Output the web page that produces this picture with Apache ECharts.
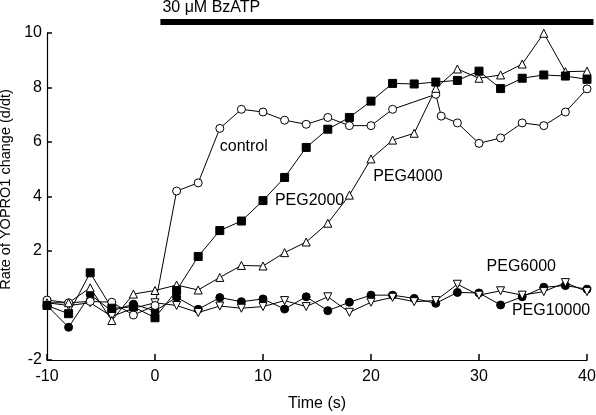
<!DOCTYPE html>
<html>
<head>
<meta charset="utf-8">
<script src="https://cdn.jsdelivr.net/npm/echarts@6/dist/echarts.min.js"></script>
<style>html,body{margin:0;padding:0;background:#fff}#c{width:596px;height:415px}</style>
</head>
<body>
<div id="c"></div>
<script>
// Time points (s)
const times = [-10,-8,-6,-4,-2,0,2,4,6,8,10,12,14,16,18,20,22,24,26,28,30,32,34,36,38,40];
// control has an extra sample near 26.5 s and none visible at 24 s
const controlTimes = [-10,-8,-6,-4,-2,0,2,4,6,8,10,12,14,16,18,20,22,26,26.5,28,30,32,34,36,38,40];
const controlVals  = [0.2,0.1,0.15,0.12,-0.35,0.0,4.2,4.5,6.5,7.2,7.1,6.8,6.65,6.9,6.6,6.6,7.2,7.75,6.95,6.7,5.95,6.15,6.7,6.6,7.1,7.95];
const peg2000 = [0.0,-0.3,1.2,-0.1,-0.05,-0.45,0.55,1.8,2.75,3.1,3.85,4.7,5.8,6.47,6.9,7.5,8.15,8.13,8.2,8.26,8.6,7.96,8.34,8.46,8.42,8.3];
const peg4000 = [0.1,0.1,0.65,-0.55,0.42,0.55,0.75,0.57,1.03,1.47,1.45,1.94,2.33,3.02,4.05,5.38,6.07,6.32,7.97,8.68,8.34,8.46,8.86,9.99,8.58,8.6];
const peg6000 = [0.1,0.0,0.1,-0.4,-0.1,0.1,0.0,-0.26,-0.02,-0.1,-0.04,0.18,-0.04,0.32,-0.25,0.12,0.3,0.14,0.18,0.78,0.38,0.54,0.38,0.51,0.84,0.51];
const peg10000 = [0.0,-0.8,0.4,-0.2,0.05,-0.2,0.3,-0.14,0.29,0.14,0.24,-0.13,0.32,-0.19,0.12,0.38,0.38,0.26,0.08,0.48,0.46,0.02,0.32,0.67,0.73,0.6];
const yTicks = [-2,2,4,6,8,10];
const xTicks = [-10,0,10,20,30,40];
// Stimulus bar (time span) and annotation labels [text, t, y]
const stimulus = {text: '30 \u03bcM BzATP', start: 0.5, end: 40.6};
const seriesLabels = [['control',6.0,5.82],['PEG2000',11.1,3.85],['PEG4000',20.2,4.72],['PEG6000',30.7,1.41],['PEG10000',33.05,-0.17]];

const FONT = 'Liberation Sans, Arial, sans-serif';
const zip = (xs, ys) => xs.map((x,i)=>[x, ys[i]]);

const chart = echarts.init(document.getElementById('c'));
function mk(name, data, symbol, filled, size, rotate){
  return {
    name, type:'line', data, symbol, symbolSize:size, symbolRotate: rotate||0,
    showAllSymbol:true, animation:false,
    lineStyle:{color:'#000', width:1},
    itemStyle:{color: filled ? '#000' : '#fff', borderColor:'#000', borderWidth:1},
    emphasis:{disabled:true}
  };
}
chart.setOption({
  animation:false,
  grid:{left:47, right:9, top:33, bottom:55, outerBoundsMode:'none', containLabel:false},
  xAxis:{
    type:'value', min:-10, max:40, interval:10,
    axisLine:{show:true, onZero:false, lineStyle:{color:'#000', width:1.2}},
    axisTick:{show:true, inside:true, length:6, lineStyle:{color:'#000', width:1.5}},
    axisLabel:{color:'#000', fontSize:16, fontFamily:FONT, margin:9,
      formatter: v => xTicks.includes(v) ? String(v) : ''},
    splitLine:{show:false},
    name:'Time (s)', nameLocation:'middle', nameGap:36,
    nameTextStyle:{color:'#000', fontSize:16, fontFamily:FONT}
  },
  yAxis:{
    type:'value', min:-2, max:10, interval:2,
    axisLine:{show:true, onZero:false, lineStyle:{color:'#000', width:1.2}},
    axisTick:{show:true, inside:true, length:5, lineStyle:{color:'#000', width:1.5}},
    axisLabel:{color:'#000', fontSize:16, fontFamily:FONT, margin:5,
      formatter: v => yTicks.includes(v) ? String(v) : ''},
    splitLine:{show:false},
    name:'Rate of YOPRO1 change (d/dt)', nameLocation:'middle', nameGap:33,
    nameTextStyle:{color:'#000', fontSize:14.5, fontFamily:FONT, padding:[0,0,0,14]}
  },
  series:[
    mk('PEG10000', zip(times, peg10000), 'circle', true, 8),
    mk('PEG6000', zip(times, peg6000), 'triangle', false, 8, 180),
    mk('control', zip(controlTimes, controlVals), 'circle', false, 8),
    mk('PEG4000', zip(times, peg4000), 'triangle', false, 8),
    mk('PEG2000', zip(times, peg2000), 'rect', true, 8)
  ]
});

const g = [];
const p0 = chart.convertToPixel({gridIndex:0}, [stimulus.start, 10]);
const p1 = chart.convertToPixel({gridIndex:0}, [stimulus.end, 10]);
g.push({type:'rect', shape:{x:p0[0], y:19, width:p1[0]-p0[0], height:6}, style:{fill:'#000'}, silent:true});
g.push({type:'text', x:p0[0]+2, y:8, style:{text:stimulus.text, fill:'#000', font:'16px '+FONT, textVerticalAlign:'middle'}, silent:true});
seriesLabels.forEach(([txt,t,y])=>{
  const p = chart.convertToPixel({gridIndex:0}, [t,y]);
  g.push({type:'text', x:p[0], y:p[1], style:{text:txt, fill:'#000', font:'16px '+FONT, textVerticalAlign:'middle', textAlign:'left'}, silent:true});
});
chart.setOption({graphic:g});
</script>
</body>
</html>
